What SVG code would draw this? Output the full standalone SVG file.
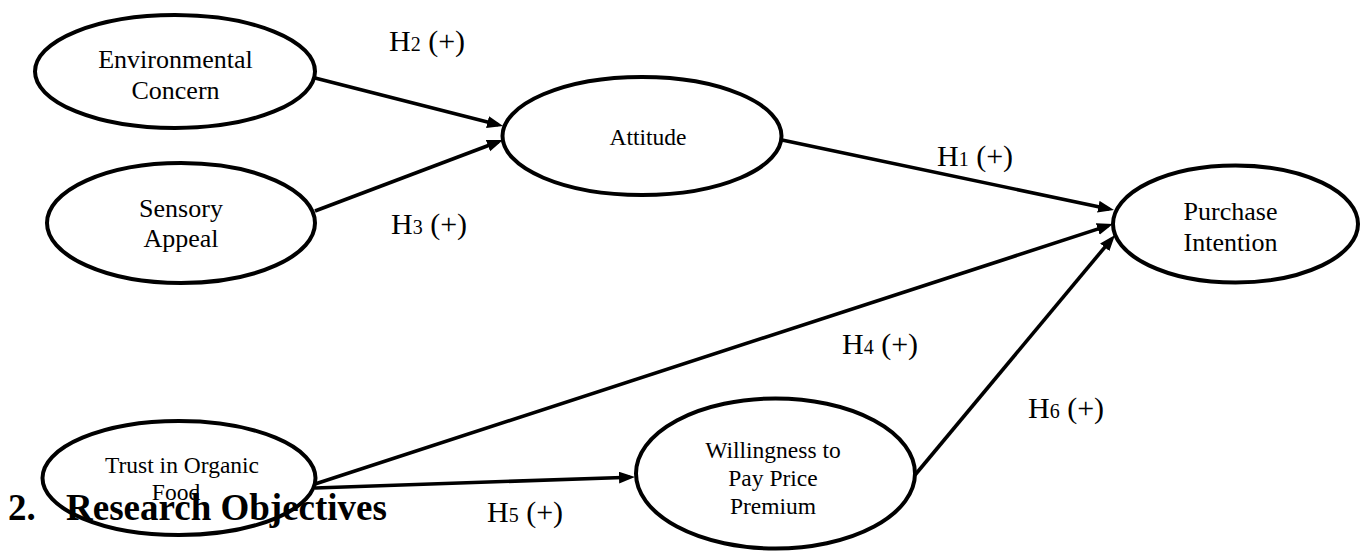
<svg xmlns="http://www.w3.org/2000/svg" width="1362" height="551" viewBox="0 0 1362 551">
<style>
.node{fill:#fff;stroke:#000;stroke-width:4}
.t{font-family:"Liberation Serif","Times New Roman",serif;fill:#000;text-anchor:middle}
.big{font-size:26px}
.small{font-size:23.5px}
.edge{stroke:#000;stroke-width:3.6;fill:none;marker-end:url(#arr)}
.lbl{font-family:"Liberation Serif","Times New Roman",serif;font-size:30px;fill:#000}
.sub{font-size:20px}
.head{font-family:"Liberation Serif","Times New Roman",serif;font-size:37px;font-weight:bold;fill:#000}
</style>
<defs>
<marker id="arr" markerUnits="userSpaceOnUse" markerWidth="17" markerHeight="13" refX="11" refY="6" orient="auto">
<path d="M0,0 L16,6 L0,12 z" fill="#000"/>
</marker>
</defs>
<rect width="1362" height="551" fill="#fff"/>
<g id="connectors">
<line class="edge" x1="315" y1="78" x2="498.2" y2="124.8"/>
<line class="edge" x1="315" y1="211" x2="498.3" y2="141.8"/>
<line class="edge" x1="782" y1="140" x2="1109.1" y2="209"/>
<line class="edge" x1="315" y1="484" x2="1108.2" y2="225.6"/>
<line class="edge" x1="315" y1="488" x2="630" y2="477.2"/>
<line class="edge" x1="915" y1="475" x2="1111.8" y2="238.8"/>
</g>
<g id="env">
<ellipse class="node" cx="175" cy="71.5" rx="140" ry="56.5"/>
<text class="t big" x="175.5" y="68">Environmental</text>
<text class="t big" x="175.5" y="99">Concern</text>
</g>
<g id="sensory">
<ellipse class="node" cx="181" cy="223" rx="134" ry="60"/>
<text class="t big" x="181" y="216.5">Sensory</text>
<text class="t big" x="181" y="247">Appeal</text>
</g>
<g id="attitude">
<ellipse class="node" cx="642" cy="136" rx="139.5" ry="59"/>
<text class="t small" x="648" y="145">Attitude</text>
</g>
<g id="purchase">
<ellipse class="node" cx="1235.5" cy="224" rx="122.5" ry="58.5"/>
<text class="t big" x="1230.5" y="220">Purchase</text>
<text class="t big" x="1230.5" y="251">Intention</text>
</g>
<g id="trust">
<ellipse class="node" cx="179" cy="478" rx="136.5" ry="57"/>
<text class="t small" x="182" y="473">Trust in Organic</text>
<text class="t small" x="176" y="500">Food</text>
</g>
<g id="willingness">
<ellipse class="node" cx="775.5" cy="473.5" rx="139.5" ry="75"/>
<text class="t small" x="773" y="458">Willingness to</text>
<text class="t small" x="773" y="486">Pay Price</text>
<text class="t small" x="773" y="513.5">Premium</text>
</g>
<g id="labels">
<text class="lbl" x="389" y="51">H<tspan class="sub">2</tspan> (+)</text>
<text class="lbl" x="391" y="234">H<tspan class="sub">3</tspan> (+)</text>
<text class="lbl" x="937" y="166">H<tspan class="sub">1</tspan> (+)</text>
<text class="lbl" x="842" y="354">H<tspan class="sub">4</tspan> (+)</text>
<text class="lbl" x="487" y="522">H<tspan class="sub">5</tspan> (+)</text>
<text class="lbl" x="1028" y="418">H<tspan class="sub">6</tspan> (+)</text>
</g>
<g id="heading">
<text class="head" x="8" y="520">2.</text>
<text class="head" x="66" y="520">Research Objectives</text>
</g>
</svg>
